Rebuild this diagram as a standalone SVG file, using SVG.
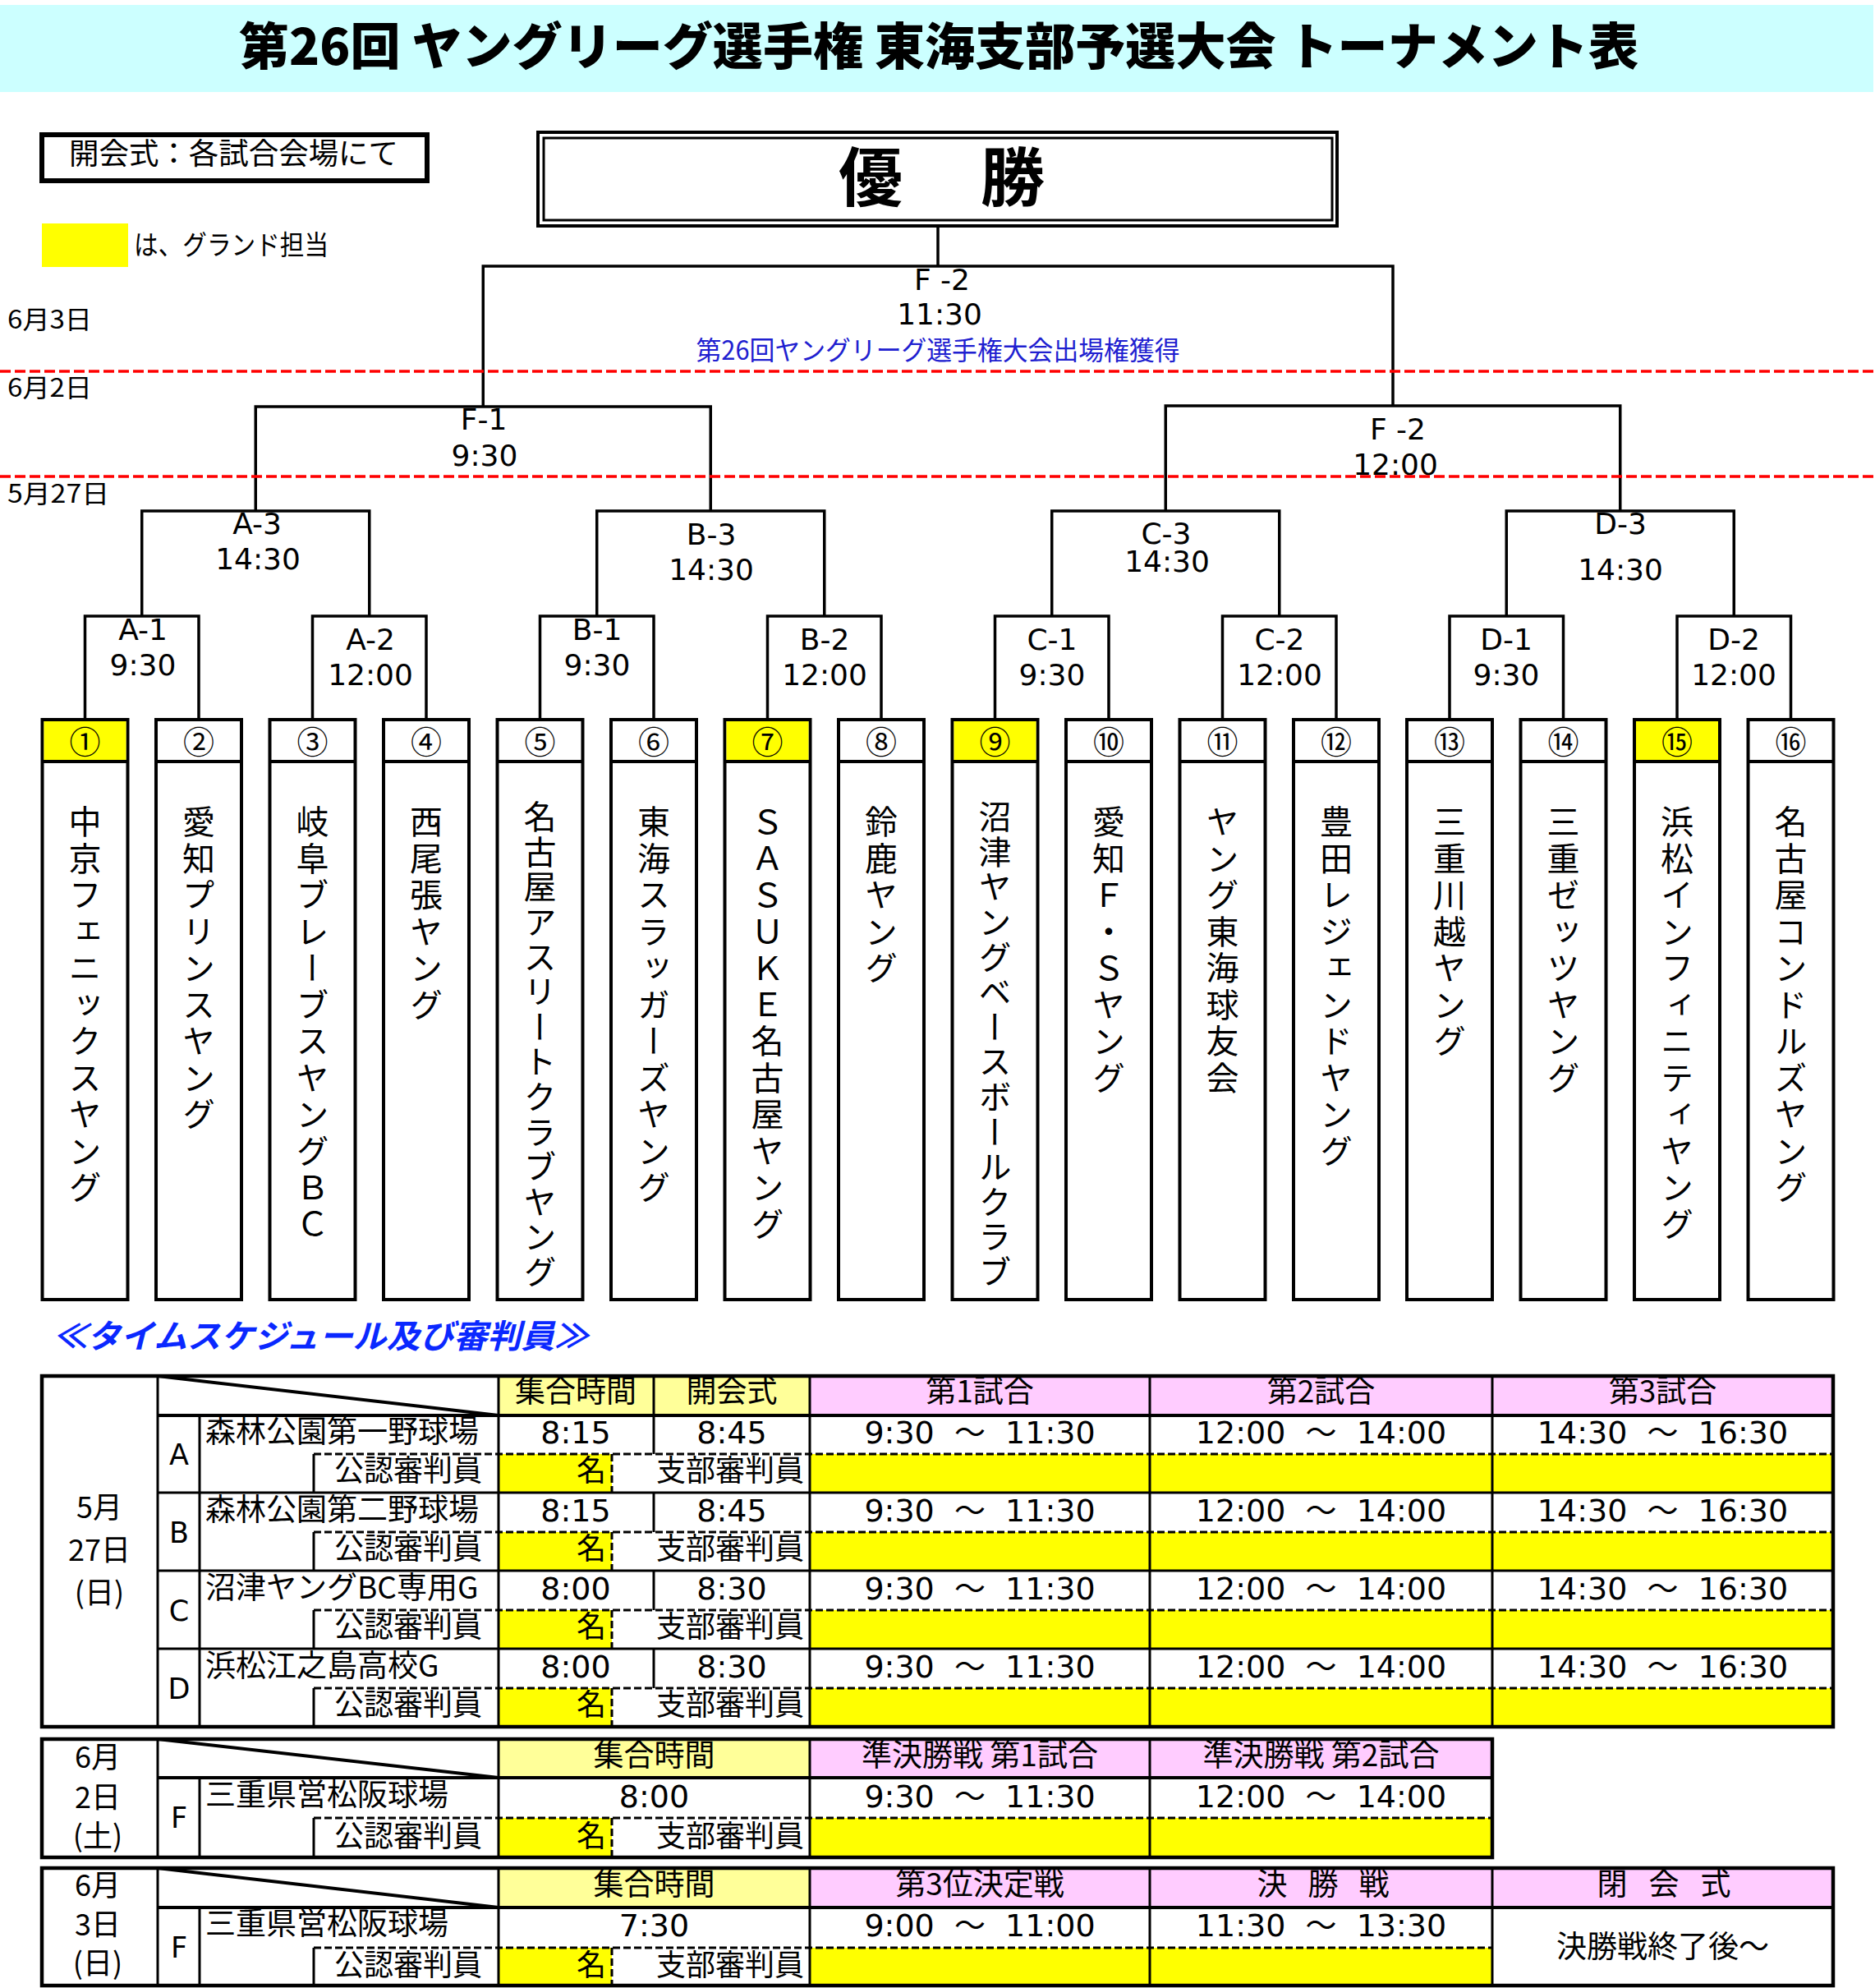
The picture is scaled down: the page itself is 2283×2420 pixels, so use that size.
<svg xmlns="http://www.w3.org/2000/svg" width="2283" height="2420" viewBox="0 0 2283 2420">
<style>
.jp{font-family:"Noto Sans CJK JP","Noto Sans CJK SC",sans-serif}
.num{font-family:"DejaVu Sans","Noto Sans CJK JP",sans-serif}
.ln{stroke:#000;stroke-width:4;fill:none}
.br{stroke:#000;stroke-width:3.5;fill:none}
.thin{stroke:#000;stroke-width:3;fill:none}
.red{stroke:#f00;stroke-width:3.5;stroke-dasharray:13 5;fill:none}
.dash{stroke:#000;stroke-width:3;stroke-dasharray:9 4;fill:none}
.box{fill:#fff;stroke:#000;stroke-width:4}
.cn{font-family:"Noto Sans CJK JP",sans-serif;font-size:38px;text-anchor:middle;dominant-baseline:central}
.vt{font-family:"Noto Sans CJK JP",sans-serif;font-size:40px;writing-mode:vertical-rl;text-orientation:upright;letter-spacing:4.5px}
.vt14{letter-spacing:2.6px}
.lab{font-family:"DejaVu Sans",sans-serif;font-size:36px;text-anchor:middle}
.t37{font-size:37px}
.t36{font-size:36px}
.t38{font-size:38px}
.mid{text-anchor:middle}
.end{text-anchor:end}
.yel{fill:#ffff00}
.pale{fill:#ffff99}
.pink{fill:#ffccff}
</style>

<!-- title -->
<g id="title">
<rect x="0" y="6" width="2281" height="106" fill="#ccffff"/>
<text class="jp" x="1143" y="79" font-size="61" font-weight="900" text-anchor="middle" textLength="1704" lengthAdjust="spacingAndGlyphs">第26回 ヤングリーグ選手権 東海支部予選大会 トーナメント表</text>
</g>

<!-- legend -->
<g id="legend">
<rect x="51" y="164" width="469" height="56" fill="#fff" stroke="#000" stroke-width="6"/>
<text class="jp" x="84" y="200" font-size="36" textLength="401" lengthAdjust="spacingAndGlyphs">開会式：各試合会場にて</text>
<rect x="51" y="272" width="105" height="53" fill="#ffff00"/>
<text class="jp" x="163" y="310" font-size="33" textLength="237" lengthAdjust="spacingAndGlyphs">は、グランド担当</text>
</g>

<!-- date labels -->
<g id="dates" class="jp" font-size="31">
<text x="9" y="400" textLength="103" lengthAdjust="spacingAndGlyphs">6月3日</text>
<text x="9" y="483" textLength="103" lengthAdjust="spacingAndGlyphs">6月2日</text>
<text x="9" y="612" textLength="124" lengthAdjust="spacingAndGlyphs">5月27日</text>
</g>

<!-- champion -->
<g id="champion">
<rect x="655" y="161" width="973" height="114" fill="#fff" stroke="#000" stroke-width="4"/>
<rect x="662" y="168" width="960" height="100" fill="none" stroke="#000" stroke-width="3"/>
<text class="jp" x="1060" y="245" font-size="78" font-weight="700" text-anchor="middle">優</text>
<text class="jp" x="1233" y="245" font-size="78" font-weight="700" text-anchor="middle">勝</text>
</g>

<!-- connectors -->
<g id="connectors" class="br">
<path d="M1142 275 V324"/>
<path d="M588.25 495 V324 H1696 V494"/>
<path d="M311.25 622 V495 H865.25 V622"/>
<path d="M1419.25 622 V494 H1972.75 V622"/>
<path d="M172.75 750 V622 H449.75 V750"/>
<path d="M726.75 750 V622 H1003.75 V750"/>
<path d="M1280.75 750 V622 H1557.75 V750"/>
<path d="M1834.25 750 V622 H2111.25 V750"/>
<path d="M103.5 876 V750 H242 V876"/>
<path d="M380.5 876 V750 H519 V876"/>
<path d="M657.5 876 V750 H796 V876"/>
<path d="M934.5 876 V750 H1073 V876"/>
<path d="M1211.5 876 V750 H1350 V876"/>
<path d="M1488.5 876 V750 H1627 V876"/>
<path d="M1765 876 V750 H1903.5 V876"/>
<path d="M2042 876 V750 H2180.5 V876"/>
</g>

<!-- match labels -->
<g id="match-final">
<text class="lab" x="1147" y="353">F -2</text>
<text class="lab" x="1144" y="395">11:30</text>
<text class="jp" x="1142" y="438" font-size="32" fill="#2020d0" text-anchor="middle" textLength="589" lengthAdjust="spacingAndGlyphs">第26回ヤングリーグ選手権大会出場権獲得</text>
</g>
<g id="match-F1"><text class="lab" x="589" y="523">F-1</text><text class="lab" x="590" y="567">9:30</text></g>
<g id="match-F2"><text class="lab" x="1702" y="535">F -2</text><text class="lab" x="1699" y="578">12:00</text></g>
<g id="match-A3"><text class="lab" x="313" y="650">A-3</text><text class="lab" x="314" y="693">14:30</text></g>
<g id="match-B3"><text class="lab" x="866" y="663">B-3</text><text class="lab" x="866" y="706">14:30</text></g>
<g id="match-C3"><text class="lab" x="1420" y="662">C-3</text><text class="lab" x="1421" y="696">14:30</text></g>
<g id="match-D3"><text class="lab" x="1973" y="650">D-3</text><text class="lab" x="1973" y="706">14:30</text></g>
<g id="match-A1"><text class="lab" x="174" y="779">A-1</text><text class="lab" x="174" y="822">9:30</text></g>
<g id="match-A2"><text class="lab" x="451" y="791">A-2</text><text class="lab" x="451" y="834">12:00</text></g>
<g id="match-B1"><text class="lab" x="727" y="779">B-1</text><text class="lab" x="727" y="822">9:30</text></g>
<g id="match-B2"><text class="lab" x="1004" y="791">B-2</text><text class="lab" x="1004" y="834">12:00</text></g>
<g id="match-C1"><text class="lab" x="1281" y="791">C-1</text><text class="lab" x="1281" y="834">9:30</text></g>
<g id="match-C2"><text class="lab" x="1558" y="791">C-2</text><text class="lab" x="1558" y="834">12:00</text></g>
<g id="match-D1"><text class="lab" x="1834" y="791">D-1</text><text class="lab" x="1834" y="834">9:30</text></g>
<g id="match-D2"><text class="lab" x="2111" y="791">D-2</text><text class="lab" x="2111" y="834">12:00</text></g>

<!-- red date lines -->
<g id="date-lines">
<path class="red" d="M0 452 H2283"/>
<path class="red" d="M0 580 H2283"/>
</g>

<!-- teams -->
<g id="team-1"><rect class="box" x="51.5" y="876" width="104" height="706"/><rect class="yel" x="53.5" y="878" width="100" height="49"/><path class="ln" d="M51.5 927 H155.5"/><text class="cn" x="103.5" y="900">①</text><text class="vt" x="103.5" y="980">中京フェニックスヤング</text></g>
<g id="team-2"><rect class="box" x="190" y="876" width="104" height="706"/><path class="ln" d="M190 927 H294"/><text class="cn" x="242" y="900">②</text><text class="vt" x="242" y="980">愛知プリンスヤング</text></g>
<g id="team-3"><rect class="box" x="328.5" y="876" width="104" height="706"/><path class="ln" d="M328.5 927 H432.5"/><text class="cn" x="380.5" y="900">③</text><text class="vt" x="380.5" y="980">岐阜ブレーブスヤングＢＣ</text></g>
<g id="team-4"><rect class="box" x="467" y="876" width="104" height="706"/><path class="ln" d="M467 927 H571"/><text class="cn" x="519" y="900">④</text><text class="vt" x="519" y="980">西尾張ヤング</text></g>
<g id="team-5"><rect class="box" x="605.5" y="876" width="104" height="706"/><path class="ln" d="M605.5 927 H709.5"/><text class="cn" x="657.5" y="900">⑤</text><text class="vt vt14" x="657.5" y="974">名古屋アスリートクラブヤング</text></g>
<g id="team-6"><rect class="box" x="744" y="876" width="104" height="706"/><path class="ln" d="M744 927 H848"/><text class="cn" x="796" y="900">⑥</text><text class="vt" x="796" y="980">東海スラッガーズヤング</text></g>
<g id="team-7"><rect class="box" x="882.5" y="876" width="104" height="706"/><rect class="yel" x="884.5" y="878" width="100" height="49"/><path class="ln" d="M882.5 927 H986.5"/><text class="cn" x="934.5" y="900">⑦</text><text class="vt" x="934.5" y="980">ＳＡＳＵＫＥ名古屋ヤング</text></g>
<g id="team-8"><rect class="box" x="1021" y="876" width="104" height="706"/><path class="ln" d="M1021 927 H1125"/><text class="cn" x="1073" y="900">⑧</text><text class="vt" x="1073" y="980">鈴鹿ヤング</text></g>
<g id="team-9"><rect class="box" x="1159.5" y="876" width="104" height="706"/><rect class="yel" x="1161.5" y="878" width="100" height="49"/><path class="ln" d="M1159.5 927 H1263.5"/><text class="cn" x="1211.5" y="900">⑨</text><text class="vt vt14" x="1211.5" y="974">沼津ヤングベースボールクラブ</text></g>
<g id="team-10"><rect class="box" x="1298" y="876" width="104" height="706"/><path class="ln" d="M1298 927 H1402"/><text class="cn" x="1350" y="900">⑩</text><text class="vt" x="1350" y="980">愛知Ｆ・Ｓヤング</text></g>
<g id="team-11"><rect class="box" x="1436.5" y="876" width="104" height="706"/><path class="ln" d="M1436.5 927 H1540.5"/><text class="cn" x="1488.5" y="900">⑪</text><text class="vt" x="1488.5" y="980">ヤング東海球友会</text></g>
<g id="team-12"><rect class="box" x="1575" y="876" width="104" height="706"/><path class="ln" d="M1575 927 H1679"/><text class="cn" x="1627" y="900">⑫</text><text class="vt" x="1627" y="980">豊田レジェンドヤング</text></g>
<g id="team-13"><rect class="box" x="1713" y="876" width="104" height="706"/><path class="ln" d="M1713 927 H1817"/><text class="cn" x="1765" y="900">⑬</text><text class="vt" x="1765" y="980">三重川越ヤング</text></g>
<g id="team-14"><rect class="box" x="1851.5" y="876" width="104" height="706"/><path class="ln" d="M1851.5 927 H1955.5"/><text class="cn" x="1903.5" y="900">⑭</text><text class="vt" x="1903.5" y="980">三重ゼッツヤング</text></g>
<g id="team-15"><rect class="box" x="1990" y="876" width="104" height="706"/><rect class="yel" x="1992" y="878" width="100" height="49"/><path class="ln" d="M1990 927 H2094"/><text class="cn" x="2042" y="900">⑮</text><text class="vt" x="2042" y="980">浜松インフィニティヤング</text></g>
<g id="team-16"><rect class="box" x="2128.5" y="876" width="104" height="706"/><path class="ln" d="M2128.5 927 H2232.5"/><text class="cn" x="2180.5" y="900">⑯</text><text class="vt" x="2180.5" y="980">名古屋コンドルズヤング</text></g>

<!-- schedule heading -->
<text id="schedule-heading" class="jp" x="65" y="1641" font-size="40" font-weight="700" font-style="italic" fill="#0a28ff" textLength="651" lengthAdjust="spacingAndGlyphs">≪タイムスケジュール及び審判員≫</text>

<!-- table 1 : 5/27 -->
<g id="table-0527">
<rect class="pale" x="607" y="1675" width="379" height="48"/>
<rect class="pink" x="986" y="1675" width="1246" height="48"/>
<g class="yel">
<rect x="607" y="1770" width="138" height="47"/><rect x="986" y="1770" width="1246" height="47"/>
<rect x="607" y="1865" width="138" height="47"/><rect x="986" y="1865" width="1246" height="47"/>
<rect x="607" y="1960" width="138" height="47"/><rect x="986" y="1960" width="1246" height="47"/>
<rect x="607" y="2055" width="138" height="47"/><rect x="986" y="2055" width="1246" height="47"/>
</g>
<path class="dash" d="M382 1770 H2232 M382 1865 H2232 M382 1960 H2232 M382 2055 H2232 M745 1770 V1817 M745 1865 V1912 M745 1960 V2007 M745 2055 V2102"/>
<path class="thin" d="M192 1675 V2102 M243 1723 V2102 M607 1675 V2102 M986 1675 V2102 M1400 1675 V2102 M1817 1675 V2102 M796 1675 V1770 M796 1817 V1865 M796 1912 V1960 M796 2007 V2055 M382 1770 V1817 M382 1865 V1912 M382 1960 V2007 M382 2055 V2102 M192 1817 H2232 M192 1912 H2232 M192 2007 H2232"/>
<path class="ln" d="M192 1723 H2232 M192 1675 L607 1723"/>
<rect x="51" y="1675" width="2181" height="427" fill="none" stroke="#000" stroke-width="4.5"/>
<g class="jp t37" text-anchor="middle">
<text x="701" y="1707">集合時間</text><text x="891" y="1707">開会式</text>
<text x="1193" y="1707">第1試合</text><text x="1608.5" y="1707">第2試合</text><text x="2024.5" y="1707">第3試合</text>
</g>
<g class="jp" font-size="36" text-anchor="middle">
<text x="121" y="1848">5月</text><text x="121" y="1900">27日</text><text x="121" y="1952">(日)</text>
</g>
<g class="num" font-size="35" text-anchor="middle">
<text x="218" y="1783">A</text><text x="218" y="1878">B</text><text x="218" y="1973">C</text><text x="218" y="2068">D</text>
</g>
<g class="jp t37">
<text x="250" y="1756">森林公園第一野球場</text>
<text x="250" y="1851">森林公園第二野球場</text>
<text x="250" y="1946">沼津ヤングBC専用G</text>
<text x="250" y="2041">浜松江之島高校G</text>
</g>
<g class="jp t36">
<text class="end" x="587" y="1803">公認審判員</text><text class="end" x="738" y="1803">名</text><text class="end" x="979" y="1803">支部審判員</text>
<text class="end" x="587" y="1898">公認審判員</text><text class="end" x="738" y="1898">名</text><text class="end" x="979" y="1898">支部審判員</text>
<text class="end" x="587" y="1993">公認審判員</text><text class="end" x="738" y="1993">名</text><text class="end" x="979" y="1993">支部審判員</text>
<text class="end" x="587" y="2088">公認審判員</text><text class="end" x="738" y="2088">名</text><text class="end" x="979" y="2088">支部審判員</text>
</g>
<g class="num t38" text-anchor="middle">
<text x="701" y="1757">8:15</text><text x="891" y="1757">8:45</text>
<text x="701" y="1852">8:15</text><text x="891" y="1852">8:45</text>
<text x="701" y="1947">8:00</text><text x="891" y="1947">8:30</text>
<text x="701" y="2042">8:00</text><text x="891" y="2042">8:30</text>
<text x="1193" y="1757" xml:space="preserve">9:30  <tspan class="jp">～</tspan>  11:30</text>
<text x="1608.5" y="1757" xml:space="preserve">12:00  <tspan class="jp">～</tspan>  14:00</text>
<text x="2024.5" y="1757" xml:space="preserve">14:30  <tspan class="jp">～</tspan>  16:30</text>
<text x="1193" y="1852" xml:space="preserve">9:30  <tspan class="jp">～</tspan>  11:30</text>
<text x="1608.5" y="1852" xml:space="preserve">12:00  <tspan class="jp">～</tspan>  14:00</text>
<text x="2024.5" y="1852" xml:space="preserve">14:30  <tspan class="jp">～</tspan>  16:30</text>
<text x="1193" y="1947" xml:space="preserve">9:30  <tspan class="jp">～</tspan>  11:30</text>
<text x="1608.5" y="1947" xml:space="preserve">12:00  <tspan class="jp">～</tspan>  14:00</text>
<text x="2024.5" y="1947" xml:space="preserve">14:30  <tspan class="jp">～</tspan>  16:30</text>
<text x="1193" y="2042" xml:space="preserve">9:30  <tspan class="jp">～</tspan>  11:30</text>
<text x="1608.5" y="2042" xml:space="preserve">12:00  <tspan class="jp">～</tspan>  14:00</text>
<text x="2024.5" y="2042" xml:space="preserve">14:30  <tspan class="jp">～</tspan>  16:30</text>
</g>
</g>

<!-- table 2 : 6/2 -->
<g id="table-0602">
<rect class="pale" x="607" y="2117" width="379" height="47"/>
<rect class="pink" x="986" y="2117" width="831" height="47"/>
<rect class="yel" x="607" y="2213" width="138" height="48"/>
<rect class="yel" x="986" y="2213" width="831" height="48"/>
<path class="dash" d="M382 2213 H1817 M745 2213 V2261"/>
<path class="thin" d="M192 2117 V2261 M243 2164 V2261 M607 2117 V2261 M986 2117 V2261 M1400 2117 V2261 M382 2213 V2261"/>
<path class="ln" d="M192 2164 H1817 M192 2117 L607 2164"/>
<rect x="51" y="2117" width="1766" height="144" fill="none" stroke="#000" stroke-width="4.5"/>
<g class="jp t37" text-anchor="middle">
<text x="796.5" y="2150">集合時間</text>
<text x="1193" y="2150">準決勝戦 第1試合</text>
<text x="1608.5" y="2150">準決勝戦 第2試合</text>
</g>
<g class="jp" font-size="36" text-anchor="middle">
<text x="119" y="2152">6月</text><text x="119" y="2201">2日</text><text x="119" y="2248">(土)</text>
</g>
<text class="num" x="218" y="2225" font-size="35" text-anchor="middle">F</text>
<text class="jp t37" x="250" y="2198">三重県営松阪球場</text>
<g class="jp t36">
<text class="end" x="587" y="2248">公認審判員</text><text class="end" x="738" y="2248">名</text><text class="end" x="979" y="2248">支部審判員</text>
</g>
<g class="num t38" text-anchor="middle">
<text x="796.5" y="2200">8:00</text>
<text x="1193" y="2200" xml:space="preserve">9:30  <tspan class="jp">～</tspan>  11:30</text>
<text x="1608.5" y="2200" xml:space="preserve">12:00  <tspan class="jp">～</tspan>  14:00</text>
</g>
</g>

<!-- table 3 : 6/3 -->
<g id="table-0603">
<rect class="pale" x="607" y="2274" width="379" height="48"/>
<rect class="pink" x="986" y="2274" width="1246" height="48"/>
<rect class="yel" x="607" y="2371" width="138" height="46"/>
<rect class="yel" x="986" y="2371" width="831" height="46"/>
<path class="dash" d="M382 2371 H1817 M745 2371 V2417"/>
<path class="thin" d="M192 2274 V2417 M243 2322 V2417 M607 2274 V2417 M986 2274 V2417 M1400 2274 V2417 M1817 2274 V2417 M382 2371 V2417"/>
<path class="ln" d="M192 2322 H2232 M192 2274 L607 2322"/>
<rect x="51" y="2274" width="2181" height="143" fill="none" stroke="#000" stroke-width="4.5"/>
<g class="jp t37" text-anchor="middle">
<text x="796.5" y="2307">集合時間</text>
<text x="1193" y="2307">第3位決定戦</text>
<text x="1549" y="2307">決</text><text x="1611" y="2307">勝</text><text x="1673" y="2307">戦</text>
<text x="1963" y="2307">閉</text><text x="2026" y="2307">会</text><text x="2089" y="2307">式</text>
</g>
<g class="jp" font-size="36" text-anchor="middle">
<text x="119" y="2308">6月</text><text x="119" y="2356">3日</text><text x="119" y="2403">(日)</text>
</g>
<text class="num" x="218" y="2383" font-size="35" text-anchor="middle">F</text>
<text class="jp t37" x="250" y="2355">三重県営松阪球場</text>
<g class="jp t36">
<text class="end" x="587" y="2405">公認審判員</text><text class="end" x="738" y="2405">名</text><text class="end" x="979" y="2405">支部審判員</text>
</g>
<g class="num t38" text-anchor="middle">
<text x="796.5" y="2357">7:30</text>
<text x="1193" y="2357" xml:space="preserve">9:00  <tspan class="jp">～</tspan>  11:00</text>
<text x="1608.5" y="2357" xml:space="preserve">11:30  <tspan class="jp">～</tspan>  13:30</text>
</g>
<text class="jp t37" x="2024.5" y="2383" text-anchor="middle">決勝戦終了後～</text>
</g>
</svg>
